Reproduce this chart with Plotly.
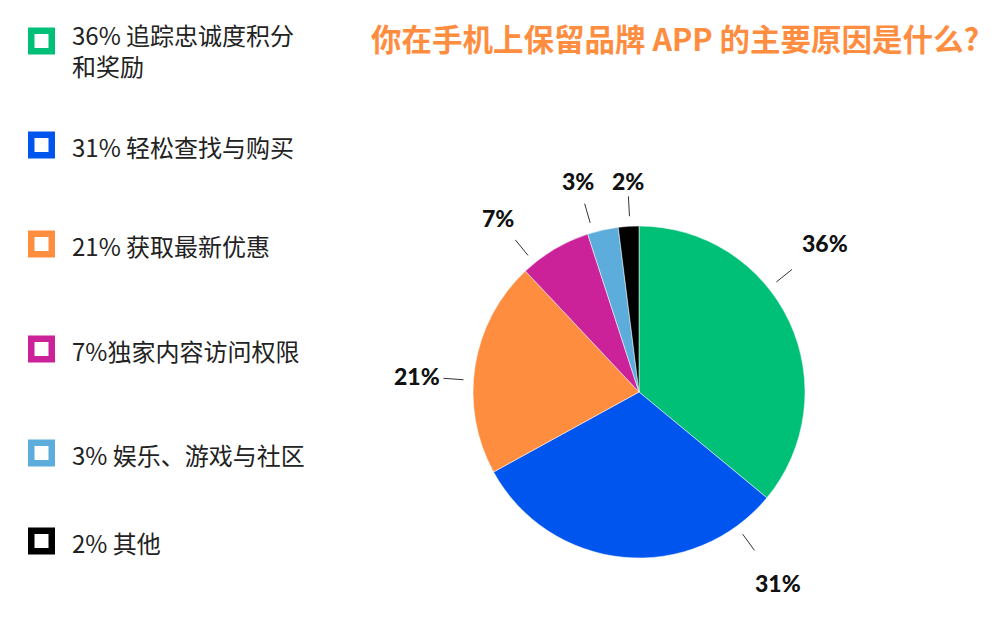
import math
import plotly.graph_objects as go

# ---------------- data ----------------
categories = ["追踪忠诚度积分和奖励", "轻松查找与购买", "获取最新优惠",
              "独家内容访问权限", "娱乐、游戏与社区", "其他"]
values = [36, 31, 21, 7, 3, 2]
legend_labels = ["36% 追踪忠诚度积分<br>和奖励", "31% 轻松查找与购买", "21% 获取最新优惠",
                 "7%独家内容访问权限", "3% 娱乐、游戏与社区", "2% 其他"]
slice_labels = ["36%", "31%", "21%", "7%", "3%", "2%"]
title_text = "你在手机上保留品牌 APP 的主要原因是什么?"

# ---------------- style / layout ----------------
colors = ["#00C078", "#0055EE", "#FF8D40", "#CC2299", "#5CADDC", "#000000"]
W, H = 1000, 620
OFF = 8                      # page body margin in the screenshot
PIE_CX, PIE_CY, PIE_R = 639, 392, 166   # target position on screen (px)
label_angle_nudge = [-13.5, -41.5, -5, -8.5, -3.5, 0.5]   # label placement tweak (deg)
label_dist_nudge = [12, 12, -3, 4, 4, -2]                 # label placement tweak (px)
legend_rows_px = [41, 145, 244, 349, 453, 541]
CJK = "Noto Sans CJK SC, Noto Sans, sans-serif"
LBL = "Lato, Roboto, sans-serif"


def px(x, y):
    """screen pixel -> paper coords"""
    return (x - OFF) / W, 1 - (y - OFF) / H


dx0, dy1 = px(PIE_CX - PIE_R, PIE_CY - PIE_R)
dx1, dy0 = px(PIE_CX + PIE_R, PIE_CY + PIE_R)

fig = go.Figure()
fig.add_trace(go.Pie(
    labels=categories, values=values, sort=False, direction="clockwise",
    rotation=0, textinfo="none", hoverinfo="label+percent",
    marker=dict(colors=colors, line=dict(color="white", width=0.5)),
    domain=dict(x=[dx0, dx1], y=[dy0, dy1]), showlegend=False,
))

cx, cy, R = PIE_CX, PIE_CY, PIE_R
shapes = []
annotations = []
total = sum(values)
cum = 0
for i, v in enumerate(values):
    mid = (cum + v / 2) / total * 360
    cum += v
    th = math.radians(mid + label_angle_nudge[i])
    ux, uy = math.sin(th), -math.cos(th)
    r1, r2 = R + 10, R + 30
    x0, y0 = px(cx + ux * r1, cy + uy * r1)
    x1, y1 = px(cx + ux * r2, cy + uy * r2)
    shapes.append(dict(type="line", xref="paper", yref="paper", x0=x0, y0=y0, x1=x1, y1=y1,
                       line=dict(color="#333333", width=1)))
    hw = 7.8 * len(slice_labels[i])
    rl = r2 + 6 + hw * abs(ux) + 10 * abs(uy) + label_dist_nudge[i]
    lx, ly = px(cx + ux * rl, cy + uy * rl)
    annotations.append(dict(x=lx, y=ly, xref="paper", yref="paper", text=slice_labels[i],
                            showarrow=False, xanchor="center", yanchor="middle",
                            font=dict(family=LBL, size=23, color="#111111", weight=900)))

# custom legend (hollow squares)
for i, lab in enumerate(legend_labels):
    yc = legend_rows_px[i]
    sx0, sy0 = px(31.25, yc + 10.25)
    sx1, sy1 = px(51.75, yc - 10.25)
    shapes.append(dict(type="rect", xref="paper", yref="paper", x0=sx0, y0=sy0, x1=sx1, y1=sy1,
                       fillcolor="white", line=dict(color=colors[i], width=6.5)))
    if "<br>" in lab:
        tx, ty = px(70, yc - 26)
        ya = "top"
    else:
        tx, ty = px(70, yc + 1)
        ya = "middle"
    annotations.append(dict(x=tx, y=ty, xref="paper", yref="paper", text=lab, showarrow=False,
                            xanchor="left", yanchor=ya, align="left",
                            font=dict(family=CJK, size=24, color="#222222")))

# title
tx, ty = px(981, 38)
annotations.append(dict(x=tx, y=ty, xref="paper", yref="paper", text=title_text, showarrow=False,
                        xanchor="right", yanchor="middle",
                        font=dict(family=CJK, size=30.5, color="#FF8D40", weight="bold")))

fig.update_layout(
    width=W, height=H, autosize=False,
    margin=dict(l=0, r=0, t=0, b=0),
    paper_bgcolor="white", plot_bgcolor="white",
    shapes=shapes, annotations=annotations, showlegend=False,
)
fig.write_html("out.html")
